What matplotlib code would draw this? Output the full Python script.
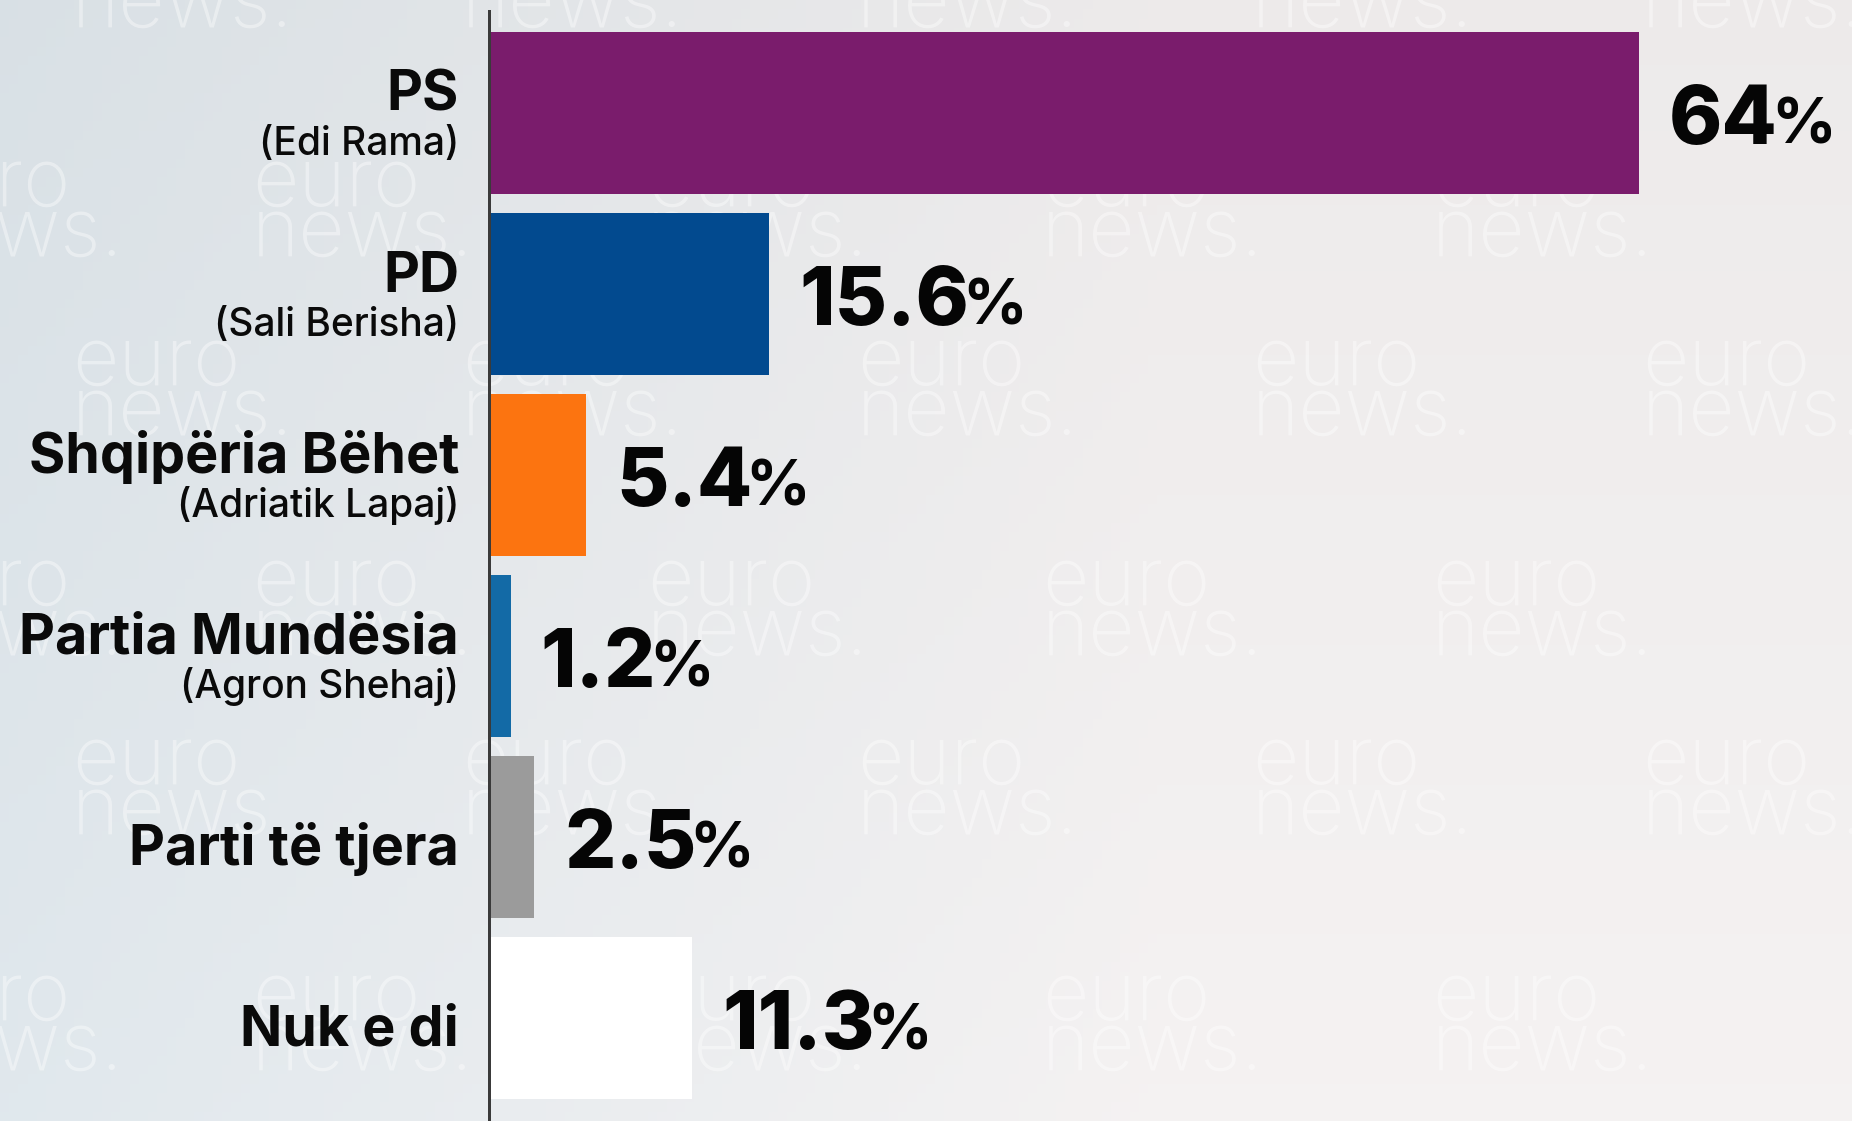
import numpy as np
import matplotlib.pyplot as plt

parties = ["PS", "PD", "Shqipëria Bëhet", "Partia Mundësia", "Parti të tjera", "Nuk e di"]
leaders = ["(Edi Rama)", "(Sali Berisha)", "(Adriatik Lapaj)", "(Agron Shehaj)", "", ""]
values = [64, 15.6, 5.4, 1.2, 2.5, 11.3]
value_labels = ["64", "15.6", "5.4", "1.2", "2.5", "11.3"]
colors = ["#7A1C6C", "#024A8F", "#FC7410", "#136AA6", "#9B9B9B", "#FFFFFF"]

W, H, DPI = 1852, 1121, 100
PX = 72 / DPI  # points per pixel

plt.rcParams["font.family"] = ["Inter", "DejaVu Sans"]

fig = plt.figure(figsize=(W / DPI, H / DPI), dpi=DPI)

# soft grey-blue background like the TV graphic
bg = fig.add_axes([0, 0, 1, 1])
gx = np.linspace(0, 1, 200)
gy = np.linspace(0, 1, 120)
X, Y = np.meshgrid(gx, gy)
left_col = np.array([0.85, 0.88, 0.90])
right_col = np.array([0.93, 0.92, 0.92])
mix = np.clip(X * 1.6, 0, 1)[..., None]
img = left_col * (1 - mix) + right_col * mix
img = img + (Y[..., None] * 0.03)
bg.imshow(np.clip(img, 0, 1), aspect="auto", extent=[0, W, H, 0])
bg.set_xlim(0, W)
bg.set_ylim(H, 0)
bg.axis("off")

# faint "euro news." watermark pattern (pixel coords, top-left origin)
wm_rows = [(-25, 1), (204, 0), (383, 1), (603, 0), (782, 1), (1018, 0)]
wm_cols = [[0, 350, 745, 1140, 1530], [170, 560, 955, 1350, 1740]]
for base, kind in wm_rows:
    for cx in wm_cols[kind]:
        bg.text(cx - 98, base + 52, "euro\nnews.", fontsize=58, fontweight="light",
                color="white", alpha=0.4, ha="left", va="baseline",
                linespacing=0.56, multialignment="left")

left_px = 489
ax = fig.add_axes([left_px / W, 0, 1 - left_px / W, 1])
ax.patch.set_alpha(0)

px_per_unit = 17.97
pitch = 181.0
ax.set_xlim(0, (W - left_px) / px_per_unit)
ax.set_ylim(5 + (H - 1018) / pitch, -113 / pitch)

y = np.arange(len(parties))
ax.barh(y, values, height=0.894, color=colors, zorder=2)

for s in ["top", "right", "bottom"]:
    ax.spines[s].set_visible(False)
ax.spines["left"].set_color("#3a3a3a")
ax.spines["left"].set_linewidth(3 * PX)
ax.spines["left"].set_zorder(3)
ax.spines["left"].set_bounds(5 + (H - 1018) / pitch, -113 / pitch + 11 / pitch)
ax.set_xticks([])
ax.set_yticks([])

ytr = ax.get_yaxis_transform()
for i, (name, sub) in enumerate(zip(parties, leaders)):
    if sub:
        ax.annotate(name, xy=(0, i), xycoords=ytr, xytext=(-30 * PX, 2 * PX),
                    textcoords="offset points", ha="right", va="baseline",
                    fontsize=40, fontweight="bold", color="#0a0a0a")
        ax.annotate(sub, xy=(0, i), xycoords=ytr, xytext=(-30 * PX, -42 * PX),
                    textcoords="offset points", ha="right", va="baseline",
                    fontsize=28, fontweight="medium", color="#0a0a0a")
    else:
        ax.annotate(name, xy=(0, i), xycoords=ytr, xytext=(-30 * PX, -28 * PX),
                    textcoords="offset points", ha="right", va="baseline",
                    fontsize=40, fontweight="bold", color="#0a0a0a")

num_texts = []
for i, (v, lab) in enumerate(zip(values, value_labels)):
    t = ax.annotate(lab, xy=(v, i), xytext=(30 * PX, -31 * PX),
                    textcoords="offset points", ha="left", va="baseline",
                    fontsize=58, fontweight="heavy", color="#050505")
    num_texts.append(t)

fig.canvas.draw()
renderer = fig.canvas.get_renderer()
inv = ax.transData.inverted()
for i, t in enumerate(num_texts):
    bb = t.get_window_extent(renderer)
    xd = inv.transform((bb.x1, 0))[0]
    ax.annotate("%", xy=(xd, i), xytext=(-7 * PX, -31 * PX),
                textcoords="offset points", ha="left", va="baseline",
                fontsize=46, fontweight="bold", color="#050505")

fig.savefig("out.png", dpi=DPI)
